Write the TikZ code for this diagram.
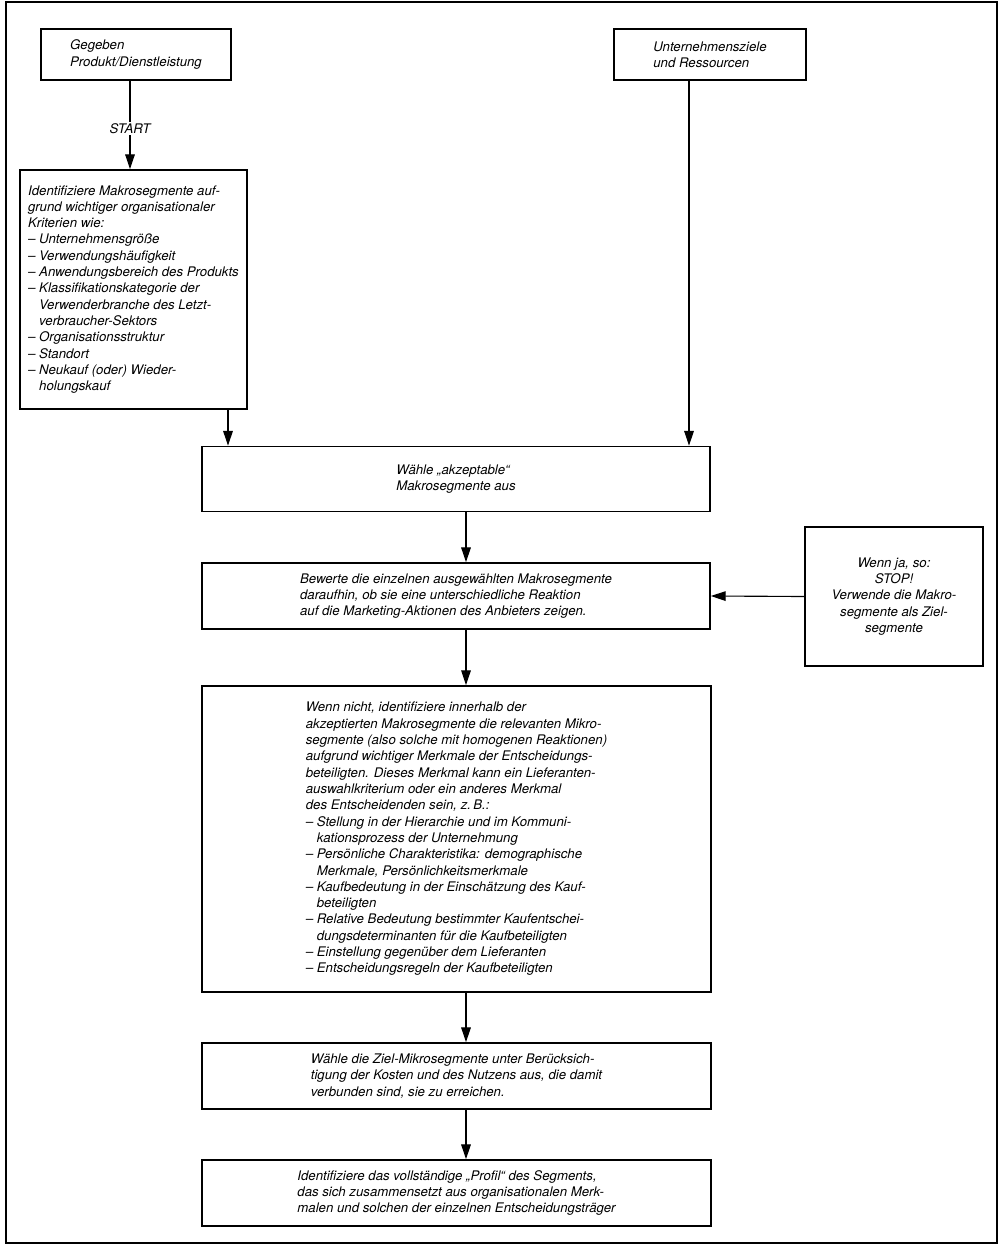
\documentclass[tikz,border=0pt]{standalone}
\usepackage{fontspec}
\setmainfont{TeX Gyre Heros}
\usepackage{tikz}
\usetikzlibrary{arrows.meta}
\newcommand{\einr}{\hphantom{– }}

\begin{document}
\begin{tikzpicture}[x=0.025cm,y=-0.025cm,
   box/.style={draw,line width=1.1pt,inner sep=0pt,align=left,
      font=\fontsize{9.4}{11.6}\selectfont\itshape},
   pfeil/.style={line width=0.8pt,-{Triangle[length=3.7mm,width=2.4mm]}}]
\useasboundingbox (0,0) rectangle (1001,1249);
\draw[line width=1.1pt] (6,2) rectangle (997,1243);

\node[box,minimum width=4.75cm,minimum height=1.275cm] (gegeben) at (136,54.5)
   {Gegeben\\Produkt/Dienstleistung};
\node[box,minimum width=4.8cm,minimum height=1.275cm] (ziele) at (710,54.5)
   {Unternehmensziele\\und Ressourcen};
\node[box,minimum width=5.675cm,minimum height=5.975cm] (makro) at (133.5,289.5)
   {Identifiziere Makrosegmente auf-\\
    grund wichtiger organisationaler\\
    Kriterien wie:\\
    – Unternehmensgröße\\
    – Verwendungshäufigkeit\\
    – Anwendungsbereich des Produkts\\
    – Klassifikationskategorie der\\
    \einr Verwenderbranche des Letzt-\\
    \einr verbraucher-Sektors\\
    – Organisationsstruktur\\
    – Standort\\
    – Neukauf (oder) Wieder-\\
    \einr holungskauf};
\node[box,minimum width=12.7cm,minimum height=1.625cm] (waehle) at (456,479)
   {Wähle „akzeptable“\\Makrosegmente aus};
\node[box,minimum width=12.7cm,minimum height=1.65cm] (bewerte) at (456,596)
   {Bewerte die einzelnen ausgewählten Makrosegmente\\
    daraufhin, ob sie eine unterschiedliche Reaktion\\
    auf die Marketing-Aktionen des Anbieters zeigen.};
\node[box,align=center,minimum width=4.45cm,minimum height=3.475cm] (stop) at (894,596.5)
   {Wenn ja, so:\\STOP!\\Verwende die Makro-\\segmente als Ziel-\\segmente};
\node[box,minimum width=12.725cm,minimum height=7.65cm] (mikro) at (456.5,839)
   {Wenn nicht, identifiziere innerhalb der\\
    akzeptierten Makrosegmente die relevanten Mikro-\\
    segmente (also solche mit homogenen Reaktionen)\\
    aufgrund wichtiger Merkmale der Entscheidungs-\\
    beteiligten. Dieses Merkmal kann ein Lieferanten-\\
    auswahlkriterium oder ein anderes Merkmal\\
    des Entscheidenden sein, z.\,B.:\\
    – Stellung in der Hierarchie und im Kommuni-\\
    \einr kationsprozess der Unternehmung\\
    – Persönliche Charakteristika: demographische\\
    \einr Merkmale, Persönlichkeitsmerkmale\\
    – Kaufbedeutung in der Einschätzung des Kauf-\\
    \einr beteiligten\\
    – Relative Bedeutung bestimmter Kaufentschei-\\
    \einr dungsdeterminanten für die Kaufbeteiligten\\
    – Einstellung gegenüber dem Lieferanten\\
    – Entscheidungsregeln der Kaufbeteiligten};
\node[box,minimum width=12.725cm,minimum height=1.65cm] (zielmikro) at (456.5,1076)
   {Wähle die Ziel-Mikrosegmente unter Berücksich-\\
    tigung der Kosten und des Nutzens aus, die damit\\
    verbunden sind, sie zu erreichen.};
\node[box,minimum width=12.725cm,minimum height=1.65cm] (profil) at (456.5,1193)
   {Identifiziere das vollständige „Profil“ des Segments,\\
    das sich zusammensetzt aus organisationalen Merk-\\
    malen und solchen der einzelnen Entscheidungsträger};

\coordinate (links) at (228,0);
\coordinate (rechts) at (689,0);
\coordinate (mitte) at (466,0);

\draw[pfeil] (gegeben.south -| 130,0) -- node[pos=0.54,fill=white,inner sep=1pt,
   font=\fontsize{9.4}{11.6}\selectfont\itshape] (start) {START} (makro.north -| 130,0);
\draw[pfeil] (makro.south -| links) -- (waehle.north -| links);
\draw[pfeil] (ziele.south -| rechts) -- (waehle.north -| rechts);
\draw[pfeil] (waehle.south -| mitte) -- (bewerte.north -| mitte);
\draw[pfeil] (stop.west) -- (bewerte.east);
\draw[pfeil] (bewerte.south -| mitte) -- (mikro.north -| mitte);
\draw[pfeil] (mikro.south -| mitte) -- (zielmikro.north -| mitte);
\draw[pfeil] (zielmikro.south -| mitte) -- (profil.north -| mitte);
\end{tikzpicture}
\end{document}
